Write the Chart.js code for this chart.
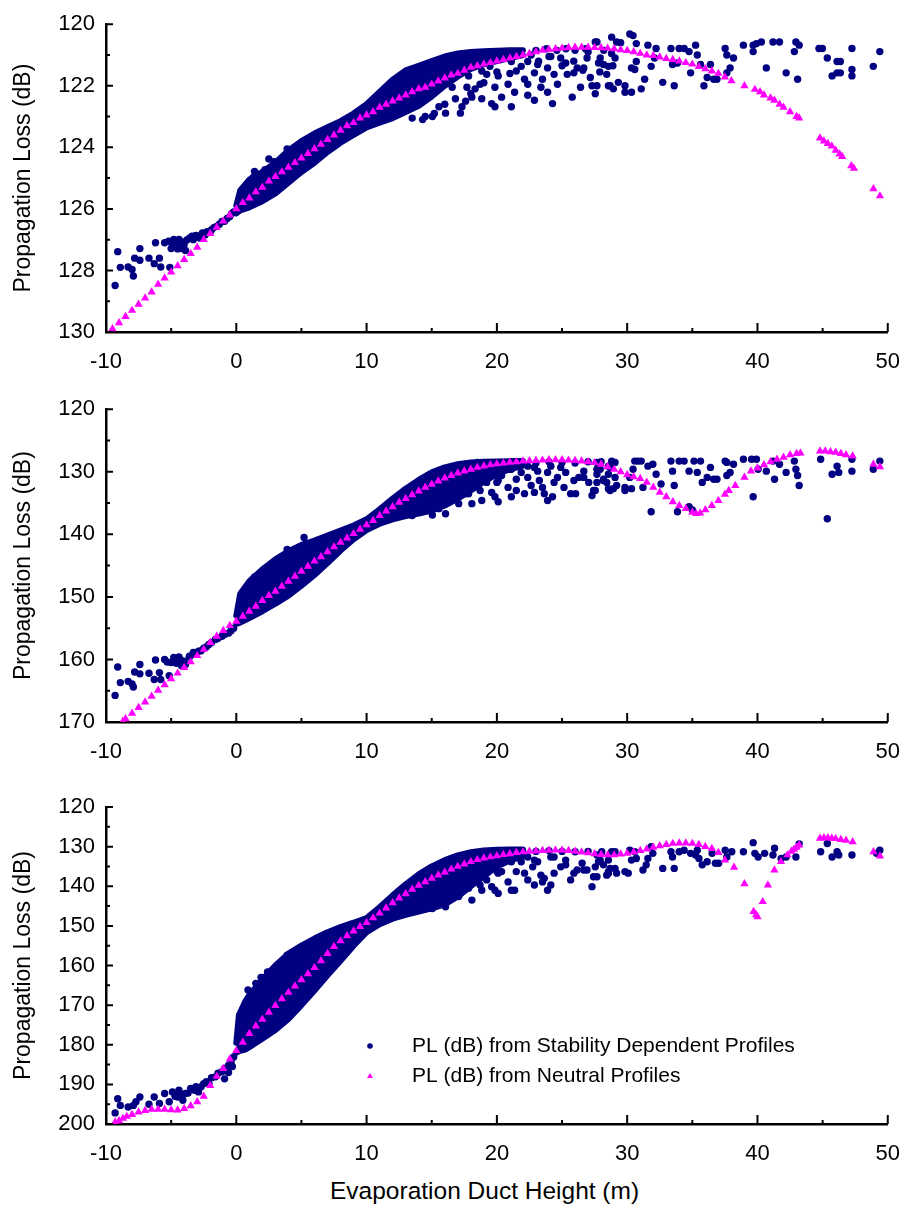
<!DOCTYPE html>
<html>
<head>
<meta charset="utf-8">
<title>Propagation Loss vs Evaporation Duct Height</title>
<script src="https://cdn.jsdelivr.net/npm/chart.js@4.4.1/dist/chart.umd.min.js"></script>
<style>
  body { margin: 0; background: #fff; }
  #wrap { position: relative; width: 917px; height: 1214px; }
  canvas { position: absolute; left: 0; }
  #xTitle { position: absolute; left: 330px; top: 1177px; font: 24.5px "Liberation Sans", Arial, sans-serif; color: #000; white-space: nowrap; }
</style>
</head>
<body>
<div id="wrap">
  <canvas id="c1" width="917" height="385" style="top:0px"></canvas>
  <canvas id="c2" width="917" height="385" style="top:385px"></canvas>
  <canvas id="c3" width="917" height="400" style="top:770px"></canvas>
  <div id="xTitle">Evaporation Duct Height (m)</div>
</div>
<script>
const NAVY = '#000080';
const MAGENTA = '#ff00ff';
const FONT = '"Liberation Sans", Arial, sans-serif';

const labelStability = 'PL (dB) from Stability Dependent Profiles';
const labelNeutral = 'PL (dB) from Neutral Profiles';

// shared x axis
const xTicks = [-10, 0, 10, 20, 30, 40, 50];

// ---------- panel 1 ----------
const yTicks1 = [120, 122, 124, 126, 128, 130];

const neutral1 = [
  [-9.5,129.9],[-9,129.7],[-8.5,129.5],[-8,129.3],[-7.5,129.1],[-7,128.9],[-6.5,128.7],[-6,128.45],
  [-5.5,128.25],[-5,128.05],[-4.5,127.85],[-4,127.65],[-3.5,127.45],[-3,127.25],[-2.5,127.0],[-2,126.8],
  [-1.5,126.6],[-1,126.4],[-0.5,126.2],[0,126.0],[0.5,125.8],[1,125.65],[1.5,125.45],[2,125.3],
  [2.5,125.1],[3,124.95],[3.5,124.8],[4,124.65],[4.5,124.5],[5,124.35],[5.5,124.2],[6,124.05],
  [6.5,123.9],[7,123.75],[7.5,123.6],[8,123.45],[8.5,123.3],[9,123.2],[9.5,123.05],[10,122.95],
  [10.5,122.85],[11,122.7],[11.5,122.6],[12,122.5],[12.5,122.4],[13,122.3],[13.5,122.2],[14,122.1],
  [14.5,122.05],[15,121.95],[15.5,121.85],[16,121.75],[16.5,121.65],[17,121.6],[17.5,121.5],[18,121.4],
  [18.5,121.35],[19,121.3],[19.5,121.25],[20,121.2],[20.5,121.15],[21,121.1],[21.5,121.05],[22,121.0],
  [22.5,120.95],[23,120.9],[23.5,120.85],[24,120.82],[24.5,120.8],[25,120.78],[25.5,120.76],[26,120.75],
  [26.5,120.75],[27,120.75],[27.5,120.76],[28,120.77],[28.5,120.78],[29,120.8],[29.5,120.83],[30,120.86],
  [30.5,120.9],[31,120.95],[31.5,121.0],[32,121.02],[32.5,121.07],[33,121.12],[33.5,121.15],[34,121.2],
  [34.5,121.25],[35,121.3],[35.5,121.38],[36,121.45],[36.5,121.52],[37,121.6],[37.5,121.72],[38,121.84],
  [39,122.0],[39.8,122.12],[40.2,122.2],[40.5,122.3],[41,122.4],[41.3,122.47],[41.7,122.6],[42,122.7],
  [42.5,122.85],[43,123.0],[43.2,123.05],[44.8,123.7],[45.1,123.8],[45.4,123.88],[45.7,123.96],[46,124.1],
  [46.3,124.22],[46.5,124.3],[47.2,124.6],[47.4,124.68],[48.9,125.35],[49.4,125.58]
];

const stability1 = [
  [-9.3,128.49],[-9.1,127.39],[-8.9,127.9],[-8.3,127.89],[-8.0,127.97],[-7.9,128.18],[-7.8,127.6],[-7.4,127.67],
  [-7.4,127.29],[-6.7,127.6],[-6.2,127.1],[-6.3,127.78],[-5.8,127.89],[-5.9,127.6],[-5.5,127.1],[-5.1,127.9],
  [-5.0,127.29],[-4.8,126.99],[-4.6,127.18],[-4.4,126.99],[-4.2,127.29],[-4.0,127.15],[-3.8,127.01],[-3.4,126.89],
  [-3.1,126.86],[-2.9,126.89],[-2.6,126.78],[-2.25,126.74],[-1.9,126.68],[-1.5,126.57],[-1.1,126.41],[-0.7,126.31],
  [-0.35,126.15],[-4.7,127.1],[-4.3,127.05],[-3.6,126.95],[-3.3,127.0],[-2.8,126.95],[-2.4,126.85],[-2.0,126.75],
  [-1.7,126.6],[-1.3,126.5],[-0.9,126.4],[-0.5,126.25],[-0.2,126.1],[-3.9,127.35],[-4.9,127.2],[-5.2,127.05],[-4.5,127.3],
  [2.5,124.38],[2.2,124.73],[2.9,124.47],[1.4,124.78],[1.3,124.98],[3.9,124.05],[5.2,123.84],
  [16.57,122.05],[16.82,122.42],[17.2,122.89],[17.83,121.68],[18.33,122.1],[18.84,122.42],[19.22,121.63],[19.6,122.58],
  [19.85,122.05],[20.36,122.37],[20.86,121.95],[21.36,122.21],[21.87,121.37],[22.12,121.79],[22.37,122.31],[22.63,121.0],
  [22.88,121.58],[23.38,122.05],[23.89,121.42],[24.27,122.58],[24.65,121.95],[24.9,121.1],[25.4,121.63],[25.78,122.37],
  [26.16,121.42],[26.42,122.05],[26.92,121.1],[27.17,121.73],[27.55,120.58],[27.55,122.26],[28.18,121.31],[28.56,122.0],
  [28.8,120.95],
  [23,120.85],[23.8,120.8],[24.6,120.85],[25.3,120.8],[26.0,120.85],[26.8,120.8],[27.0,120.9],[28.2,120.85],[29.5,120.6],
  [23.2,121.2],[24.0,121.05],[25.0,121.35],[25.9,121.2],[26.6,121.5],[27.9,121.55],[28.9,121.35],[21.0,121.6],
  [19.0,121.9],[20.0,121.55],[18.0,122.25],[17.6,122.5],[16.0,122.6],[15.2,122.9],[14.5,123.0],[13.5,123.05],
  [18.84,121.52],[19.47,121.37],[20.1,121.68],[21.11,121.21],[21.49,121.52],[22.37,121.21],[23.13,121.31],[23.5,121.79],
  [24.14,121.05],[24.39,121.63],[25.28,121.26],[25.91,121.58],[26.67,121.42],[27.3,122.0],[27.93,121.1],[28.43,121.63],
  [17.7,122.05],[18.08,122.37],[18.71,121.95],[17.32,122.68],[19.85,122.68],[21.11,122.68],[22.37,121.95],[23.89,122.21],
  [22.88,122.47],[16.06,122.89],[15.55,122.68],[15.05,123.0],[14.3,123.1],
  [27.68,120.58],[27.8,121.26],[27.68,122.0],[28.56,121.37],[28.81,120.42],[29.07,121.1],[29.19,120.58],[28.69,122.0],
  [28.94,122.1],[29.32,121.89],[29.83,122.0],[29.83,122.21],[30.33,122.21],[30.2,120.32],[30.45,120.37],[30.7,120.63],
  [30.7,121.21],[30.33,121.42],[30.58,121.47],[31.08,122.1],[31.34,121.79],[31.59,120.68],[31.84,121.37],[32.1,121.1],
  [32.22,120.79],[32.73,121.89],[33.36,120.79],[33.61,122.0],[33.48,121.31],[33.86,121.26],[33.99,120.79],[34.37,120.79],
  [34.75,120.89],[34.87,121.58],[35.25,120.68],[35.38,121.0],[35.63,121.31],[35.89,122.0],[36.14,121.73],[36.39,121.31],
  [36.64,121.79],[36.89,121.79],[37.52,120.79],[37.65,121.0],[37.9,121.42],[37.65,121.58],[38.16,121.1],[38.92,120.68],
  [39.67,120.68],[39.67,120.89],[39.92,120.63],[40.3,120.58],[40.68,121.42],[41.19,120.58],[41.69,120.58],[42.2,121.58],
  [42.83,120.89],[42.95,120.58],[43.2,120.68],[43.08,121.79],[44.72,120.79],[44.98,120.79],[45.36,121.1],[46.11,121.21],
  [46.36,121.21],[45.73,121.68],[46.11,121.58],[46.36,121.58],[47.25,120.79],[47.25,121.47],[47.25,121.68],[48.89,121.37],
  [49.39,120.89]
];

// dense part of the stability scatter: upper and lower edges of the cloud
const bandX1 = [0, 0.3, 1, 2, 3, 4, 5, 6, 7, 8, 9, 10, 11, 12, 13, 14, 15, 16, 17, 18, 19, 20, 21, 22];
const bandTop1 = [125.9, 125.4, 125.05, 124.8, 124.5, 124.1, 123.8, 123.55, 123.35, 123.15, 122.9, 122.6,
  122.2, 121.8, 121.5, 121.35, 121.2, 121.05, 120.95, 120.9, 120.88, 120.86, 120.85, 120.85];
const bandBottom1 = [126.15, 126.05, 125.95, 125.75, 125.5, 125.15, 124.8, 124.5, 124.15, 123.85, 123.6, 123.35,
  123.2, 123.05, 122.85, 122.65, 122.35, 122.0, 121.7, 121.45, 121.3, 121.2, 121.1, 121.0];

// ---------- panel 2 ----------
const yTicks2 = [120, 130, 140, 150, 160, 170];

const neutral2 = [
  [-8.7,169.9],[-8.5,169.5],[-8,168.6],[-7.5,167.7],[-7,166.8],[-6.5,165.9],[-6,164.95],[-5.5,164.05],
  [-5,163.1],[-4.5,162.2],[-4,161.3],[-3.5,160.4],[-3,159.4],[-2.5,158.4],[-2,157.3],[-1.5,156.3],
  [-1,155.4],[-0.5,154.6],[0,153.9],[0.5,153.1],[1,152.3],[1.5,151.5],[2,150.6],[2.5,149.8],
  [3,149.1],[3.5,148.3],[4,147.5],[4.5,146.7],[5,145.9],[5.5,145.1],[6,144.3],[6.5,143.6],
  [7,142.8],[7.5,142.0],[8,141.3],[8.5,140.6],[9,139.9],[9.5,139.2],[10,138.5],[10.5,137.8],
  [11,137.0],[11.5,136.3],[12,135.6],[12.5,134.9],[13,134.3],[13.5,133.7],[14,133.1],[14.5,132.5],
  [15,132.0],[15.5,131.5],[16,131.0],[16.5,130.6],[17,130.2],[17.5,129.9],[18,129.6],[18.5,129.3],
  [19,129.1],[19.5,128.9],[20,128.75],[20.5,128.6],[21,128.5],[21.5,128.4],[22,128.3],[22.5,128.25],
  [23,128.2],[23.5,128.15],[24,128.1],[24.5,128.1],[25,128.1],[25.5,128.15],[26,128.2],[26.5,128.3],
  [27,128.4],[27.5,128.55],[28,128.8],[28.5,129.2],[29,129.6],[29.5,130.0],[30,130.5],[30.5,130.8],
  [31,131.1],[31.5,131.7],[32,132.5],[32.5,133.3],[33,134.0],[33.5,134.8],[34,135.4],[34.5,135.9],
  [35,136.5],[35.3,136.7],[35.6,136.6],[36,136.1],[36.5,135.4],[37,134.6],[37.5,133.6],[37.8,133.0],
  [38.3,132.2],[39.0,130.9],[39.5,129.9],[40,129.4],[40.5,128.9],[41,128.4],[41.5,128.0],[42,127.7],
  [42.5,127.3],[43,127.1],[43.3,127.0],[44.8,126.7],[45.2,126.7],[45.6,126.8],[46,126.9],[46.4,127.1],
  [46.8,127.3],[47.3,127.5],[48.9,128.8],[49.4,129.2]
];

const stability2 = [
  [-9.3,165.75],[-9.1,161.2],[-8.9,163.7],[-8.3,163.5],[-8.0,163.9],[-7.9,164.4],[-7.8,162.0],[-7.4,162.3],
  [-7.4,160.8],[-6.7,162.2],[-6.2,160.1],[-6.3,163.2],[-5.8,163.2],[-5.9,162.1],[-5.5,160.0],[-5.15,162.6],
  [-5.0,160.5],[-4.8,159.7],[-4.6,160.6],[-4.4,159.6],[-4.2,161.0],[-4.0,160.3],[-3.6,159.5],[-3.3,158.9],
  [-2.9,158.7],[-2.5,158.2],[-2.1,157.6],[-1.6,156.8],[-1.1,156.3],[-0.6,155.8],[-0.2,155.0],
  [-4.7,160.2],[-4.3,160.0],[-3.6,159.6],[-3.3,159.2],[-2.7,158.6],[-2.3,158.0],[-1.9,157.3],[-1.4,156.6],
  [-0.9,156.0],[-0.4,155.4],[-3.9,160.8],[-5.3,160.4],
  [2.5,145.2],[1.4,146.8],[1.2,147.5],[2.0,146.0],[3.9,142.4],[5.2,140.5],
  [16.57,133.0],[17.07,135.1],[17.32,131.95],[17.83,133.5],[18.46,130.9],[18.84,134.6],[19.22,131.7],[19.6,133.3],
  [20.1,134.8],[20.36,130.6],[20.86,132.5],[21.49,133.0],[21.87,130.1],[22.12,133.5],[22.37,130.9],[22.63,132.2],
  [22.88,129.3],[23.26,131.4],[23.64,133.5],[23.89,130.1],[24.27,134.0],[24.65,130.9],[24.9,129.3],[25.15,132.5],
  [25.66,133.5],[26.04,133.5],[26.29,130.9],[26.67,129.9],[27.05,131.7],[27.42,133.0],[27.68,130.4],[28.18,131.4],
  [28.56,132.7],[28.69,129.3],
  [16.0,134.5],[15.2,135.5],[14.5,136.2],[13.5,137.0],[17.6,131.0],[18.0,132.2],[19.0,130.6],[20.0,131.7],
  [21.0,129.6],[22.0,128.8],[23.0,128.6],[24.0,128.4],[25.0,128.5],[26.0,128.6],[27.0,128.4],[28.0,128.4],
  [19.5,129.4],[18.5,128.5],
  [18.84,129.9],[19.47,129.1],[20.1,131.4],[21.11,129.6],[21.49,131.2],[22.37,129.1],[23.13,129.9],[23.5,132.5],
  [24.14,129.1],[24.39,131.7],[25.28,130.1],[25.91,131.4],[26.67,130.9],[27.3,133.8],[27.93,129.6],[28.43,131.7],
  [17.7,133.5],[18.08,135.1],[18.71,133.0],[19.85,134.0],[21.11,134.0],[22.88,133.3],[23.89,134.6],[16.06,136.7],
  [15.55,135.9],[15.05,136.9],
  [27.68,128.5],[27.68,129.6],[27.68,131.7],[27.55,133.0],[28.18,131.2],[28.56,129.1],[28.56,130.4],[28.69,133.0],
  [28.81,128.3],[29.07,128.5],[29.07,130.9],[29.19,132.2],[28.94,132.7],[29.83,132.5],[29.83,133.0],[30.2,130.9],
  [30.33,132.7],[30.45,129.6],[30.58,128.3],[30.83,128.3],[31.08,128.3],[31.21,132.5],[31.59,129.1],[31.84,136.4],
  [31.97,128.8],[32.22,130.4],[32.6,131.95],[33.36,128.3],[33.48,129.9],[33.61,132.2],[33.86,136.4],[33.99,128.3],
  [34.37,128.3],[34.75,129.9],[34.75,135.6],[35.0,136.1],[35.13,128.3],[35.38,130.1],[35.63,128.3],[35.76,131.7],
  [36.14,130.9],[36.39,129.3],[36.64,131.2],[36.89,131.2],[37.52,128.3],[37.65,128.5],[37.65,130.6],[37.9,130.1],
  [38.16,128.8],[38.92,128.0],[39.55,128.0],[39.67,134.0],[39.92,128.0],[40.05,129.6],[40.68,129.9],[41.19,128.3],
  [41.31,131.2],[41.69,128.8],[42.2,130.1],[42.83,128.3],[42.95,129.6],[43.08,130.6],[43.2,132.2],[44.85,128.0],
  [45.36,137.5],[45.73,130.4],[46.11,129.1],[46.24,130.1],[47.25,128.0],[47.25,129.9],[48.89,129.6],[49.39,128.3]
];

const bandX2 = [0, 0.3, 1, 2, 3, 4, 5, 6, 7, 8, 9, 10, 11, 12, 13, 14, 15, 16, 17, 18, 19, 20, 21, 22];
const bandTop2 = [153.0, 149.5, 147.5, 145.6, 144.0, 142.7, 141.7, 141.0, 140.2, 139.4, 138.6, 137.6,
  136.0, 134.3, 132.7, 131.3, 130.1, 129.3, 128.8, 128.5, 128.4, 128.35, 128.3, 128.3];
const bandBottom2 = [154.3, 154.1, 153.4, 152.3, 151.1, 149.8, 148.2, 146.5, 144.6, 142.6, 140.8, 139.3,
  138.3, 137.6, 137.1, 136.7, 136.2, 135.4, 134.3, 133.0, 131.6, 130.4, 129.6, 129.0];

// ---------- panel 3 ----------
const yTicks3 = [120, 130, 140, 150, 160, 170, 180, 190, 200];

const neutral3 = [
  [-9.3,199.5],[-9,199.2],[-8.7,198.6],[-8.4,198.1],[-8,197.6],[-7.5,197.0],[-7,196.6],[-6.5,196.3],
  [-6,196.3],[-5.5,196.3],[-5,196.4],[-4.5,196.5],[-4,196.1],[-3.5,195.4],[-3,194.4],[-2.5,193.0],
  [-2,190.3],[-1.5,188.0],[-1,186.0],[-0.5,183.6],[0,181.5],[0.5,179.4],[1,177.2],[1.5,175.3],
  [2,173.6],[2.5,171.8],[3,170.1],[3.5,168.4],[4,166.8],[4.5,165.2],[5,163.6],[5.5,162.1],
  [6,160.5],[6.5,158.8],[7,157.0],[7.5,155.2],[8,153.8],[8.5,152.5],[9,151.3],[9.5,150.2],
  [10,149.2],[10.5,148.0],[11,146.8],[11.5,145.5],[12,144.2],[12.5,143.0],[13,141.9],[13.5,140.8],
  [14,139.8],[14.5,138.9],[15,138.0],[15.5,137.2],[16,136.5],[16.5,135.7],[17,135.0],[17.5,134.4],
  [18,133.8],[18.5,133.3],[19,132.9],[19.5,132.6],[20,132.3],[20.5,132.0],[21,131.8],[21.5,131.5],
  [22,131.35],[22.5,131.2],[23,131.1],[23.5,131.0],[24,130.95],[24.5,130.9],[25,130.9],[25.5,131.0],
  [26,131.2],[26.5,131.4],[27,131.6],[27.5,131.8],[28,132.0],[28.5,132.1],[29,132.1],[29.5,131.9],
  [30,131.7],[30.5,131.4],[31,131.0],[31.5,130.6],[32,130.2],[32.5,129.8],[33,129.5],[33.5,129.2],
  [34,129.1],[34.5,129.1],[35,129.2],[35.5,129.5],[36,130.0],[36.5,130.5],[37,131.5],[37.5,133.4],
  [38.2,135.2],[39.0,139.4],[39.7,146.4],[39.9,147.2],[40.0,147.7],[40.4,143.9],[40.8,139.7],[41.3,135.9],
  [41.8,133.8],[42.3,132.1],[42.6,131.2],[42.8,130.7],[43.0,130.2],[43.2,129.6],[44.8,127.9],[45.1,127.8],
  [45.4,127.8],[45.7,127.9],[46.0,128.0],[46.4,128.2],[46.8,128.4],[47.3,128.8],[48.9,131.3],[49.4,132.4]
];

const stability3 = [
  [-9.3,197.2],[-9.1,193.6],[-8.9,195.3],[-8.3,195.7],[-7.9,195.3],[-7.7,194.4],[-7.4,193.2],[-6.7,195.0],
  [-6.3,193.2],[-5.9,194.8],[-5.5,192.3],[-5.15,194.4],[-4.9,191.9],[-4.5,193.2],[-4.4,191.5],[-4.1,194.0],
  [-3.9,192.3],[-3.5,191.0],[-3.1,190.6],[-2.9,191.9],[-2.5,189.8],[-2.1,189.8],[-1.6,188.1],[-1.1,186.8],
  [-0.6,185.2],[-0.2,183.1],
  [-4.7,193.0],[-4.2,192.6],[-3.7,192.2],[-3.2,191.5],[-2.7,190.6],[-2.3,189.3],[-1.9,188.3],[-1.4,187.2],
  [-0.9,186.0],[-0.4,184.3],[-0.6,187.0],[-0.3,185.5],[-0.9,188.6],
  [2.4,161.6],[1.5,164.5],[1.2,167.0],[0.7,169.6],[0.5,171.3],[3.9,157.4],[1.9,163.0],[0.9,166.2],
  [16.57,138.9],[17.07,142.6],[17.45,137.6],[17.83,140.5],[18.46,136.7],[18.84,141.0],[19.22,138.4],[19.6,140.1],
  [20.1,141.8],[20.36,136.3],[20.86,138.9],[21.36,141.0],[21.87,133.8],[22.12,136.7],[22.37,138.4],[22.75,135.1],
  [22.88,133.4],[23.38,137.2],[23.64,138.0],[24.14,139.7],[24.39,132.6],[24.9,135.1],[25.28,133.4],[25.66,138.4],
  [26.16,135.9],[26.54,134.2],[26.92,135.9],[27.42,137.6],[27.8,133.8],[28.56,136.7],[28.69,135.5],
  [16.0,143.5],[15.2,144.8],[14.5,145.6],[13.5,146.4],[17.6,139.5],[18.0,137.0],[19.0,135.5],[20.0,136.2],
  [21.0,133.0],[22.0,131.5],[23.0,131.2],[24.0,131.0],[25.0,131.2],[26.0,131.3],[27.0,131.2],[28.0,131.8],
  [18.5,133.0],[19.5,132.2],[17.0,136.5],[16.5,141.0],
  [18.84,133.8],[19.47,132.6],[20.1,136.7],[21.11,133.8],[21.49,136.3],[22.37,132.6],[23.13,133.8],[23.5,138.9],
  [24.14,132.6],[24.39,136.7],[25.28,134.6],[25.91,136.7],[26.67,135.9],[27.3,140.1],[27.93,133.4],[28.43,137.2],
  [17.7,140.5],[18.08,143.5],[18.71,139.7],[19.85,141.0],[21.11,141.0],[22.88,139.7],[23.89,141.0],[16.06,145.2],
  [15.55,144.3],[15.05,145.6],
  [27.68,132.1],[27.55,135.1],[27.68,137.6],[28.05,131.3],[28.18,134.6],[28.56,133.4],[28.56,136.3],[28.81,131.3],
  [29.07,131.3],[29.07,135.5],[29.19,136.7],[29.83,136.3],[30.08,136.7],[30.2,130.9],[30.58,131.3],[30.33,133.4],
  [30.7,133.0],[31.21,135.9],[31.46,134.6],[31.59,133.0],[31.84,130.0],[31.97,131.7],[32.73,135.5],[33.36,131.3],
  [33.61,135.5],[33.48,132.6],[33.99,131.3],[34.37,130.9],[34.87,131.7],[35.25,132.1],[35.38,130.9],[35.51,133.0],
  [35.76,134.6],[36.14,133.8],[36.52,131.7],[36.77,134.2],[37.02,134.2],[37.52,130.9],[37.65,132.6],[38.03,131.3],
  [38.92,131.3],[39.67,129.0],[39.8,131.7],[40.05,132.6],[40.55,131.7],[41.31,130.4],[41.19,132.1],[41.82,133.0],
  [42.2,132.6],[42.95,132.6],[43.2,129.3],[44.85,131.3],[45.36,129.2],[45.73,132.6],[46.11,131.3],[46.24,132.1],
  [47.25,132.1],[49.39,130.9],[49.14,131.7]
];

const bandX3 = [0, 0.2, 0.7, 1, 2, 3, 4, 5, 6, 7, 8, 9, 10, 11, 12, 13, 14, 15, 16, 17, 18, 19, 20, 21, 22];
const bandTop3 = [179.5, 172.5, 169.0, 167.5, 163.5, 160.0, 157.0, 155.0, 153.2, 151.6, 150.3, 149.2, 148.0,
  145.3, 142.3, 139.5, 137.0, 135.0, 133.4, 132.2, 131.4, 131.0, 130.8, 130.7, 130.7];
const bandBottom3 = [182.0, 181.6, 181.2, 180.6, 178.5, 176.3, 173.5, 170.0, 166.3, 162.5, 158.8, 155.0, 151.6,
  149.6, 148.2, 147.2, 146.4, 145.6, 144.6, 142.6, 140.0, 137.5, 135.0, 133.5, 132.5];

// ---------- drawing ----------
function toPoints(xs, ys) {
  return xs.map((x, i) => ({ x: x, y: ys[i] }));
}
function pairs(list) {
  return list.map(p => ({ x: p[0], y: p[1] }));
}

// short tick marks pointing into the plot, with unlabelled minor ticks halfway
const inwardTicks = {
  id: 'inwardTicks',
  afterDraw(chart) {
    const ctx = chart.ctx;
    const a = chart.chartArea;
    const xs = chart.scales.x, ys = chart.scales.y;
    ctx.save();
    ctx.strokeStyle = '#000';
    ctx.lineWidth = 2;
    ctx.beginPath();
    const xv = xs.ticks.map(t => t.value);
    xv.forEach((v, i) => {
      const p = xs.getPixelForValue(v);
      ctx.moveTo(p, a.bottom); ctx.lineTo(p, a.bottom - 9);
      if (i < xv.length - 1) {
        const m = xs.getPixelForValue((v + xv[i + 1]) / 2);
        ctx.moveTo(m, a.bottom); ctx.lineTo(m, a.bottom - 4);
      }
    });
    const yv = ys.ticks.map(t => t.value);
    yv.forEach((v, i) => {
      const p = ys.getPixelForValue(v);
      ctx.moveTo(a.left, p); ctx.lineTo(a.left + 7, p);
      if (i < yv.length - 1) {
        const m = ys.getPixelForValue((v + yv[i + 1]) / 2);
        ctx.moveTo(a.left, m); ctx.lineTo(a.left + 4, m);
      }
    });
    ctx.stroke();
    ctx.restore();
  }
};

// legend drawn inside the bottom panel
const innerLegend = {
  id: 'innerLegend',
  afterDraw(chart, args, opts) {
    if (!opts.show) return;
    const ctx = chart.ctx;
    const items = chart.data.datasets.filter(d => d.label);
    ctx.save();
    ctx.font = '21px ' + FONT;
    ctx.textBaseline = 'middle';
    items.forEach((d, i) => {
      const y = opts.y + i * opts.gap;
      ctx.fillStyle = d.backgroundColor;
      ctx.beginPath();
      if (d.pointStyle === 'triangle') {
        ctx.moveTo(opts.x, y - 3); ctx.lineTo(opts.x + 3, y + 2); ctx.lineTo(opts.x - 3, y + 2);
      } else {
        ctx.arc(opts.x, y, 2.8, 0, Math.PI * 2);
      }
      ctx.fill();
      ctx.fillStyle = '#000';
      ctx.fillText(d.label, opts.textX, y);
    });
    ctx.restore();
  }
};

function makePanel(id, yTicks, neutral, stability, bandX, bandTop, bandBottom, box, legend) {
  new Chart(document.getElementById(id), {
    type: 'scatter',
    data: {
      datasets: [
        {
          label: labelStability, data: pairs(stability), pointStyle: 'circle',
          pointRadius: 3.7, borderWidth: 0, backgroundColor: NAVY, order: 1
        },
        {
          label: labelNeutral, data: pairs(neutral), pointStyle: 'triangle',
          pointRadius: 4.8, borderWidth: 0, backgroundColor: MAGENTA, order: 0
        },
        {
          label: '', data: toPoints(bandX, bandTop), showLine: true, pointRadius: 0,
          borderColor: NAVY, borderWidth: 6, borderJoinStyle: 'round', borderCapStyle: 'round',
          backgroundColor: NAVY, fill: '+1', tension: 0, order: 2
        },
        {
          label: '', data: toPoints(bandX, bandBottom), showLine: true, pointRadius: 0,
          borderColor: NAVY, borderWidth: 6, borderJoinStyle: 'round', borderCapStyle: 'round',
          backgroundColor: NAVY, fill: false, tension: 0, order: 2
        }
      ]
    },
    options: {
      responsive: false,
      animation: false,
      devicePixelRatio: 1,
      layout: { padding: { top: box.top, right: 19, left: 0, bottom: 0 } },
      plugins: {
        legend: { display: false },
        tooltip: { enabled: false },
        innerLegend: legend || { show: false }
      },
      scales: {
        x: {
          type: 'linear',
          min: xTicks[0], max: xTicks[xTicks.length - 1],
          ticks: { stepSize: xTicks[1] - xTicks[0], color: '#000', padding: 17, font: { family: FONT, size: 22 } },
          grid: { display: false, drawTicks: false },
          border: { display: true, color: '#000', width: 2.5 },
          afterFit: s => { s.height = box.xh; }
        },
        y: {
          type: 'linear',
          reverse: true,
          min: yTicks[0], max: yTicks[yTicks.length - 1],
          ticks: { stepSize: yTicks[1] - yTicks[0], color: '#000', padding: 11, font: { family: FONT, size: 22 } },
          grid: { display: false, drawTicks: false },
          border: { display: true, color: '#000', width: 2.5 },
          title: {
            display: true, text: 'Propagation Loss (dB)', color: '#000',
            font: { family: FONT, size: 23 }, padding: { top: 10, bottom: 0 }
          },
          afterFit: s => { s.width = 106; }
        }
      }
    },
    plugins: [inwardTicks, innerLegend]
  });
}

makePanel('c1', yTicks1, neutral1, stability1, bandX1, bandTop1, bandBottom1, { top: 15, xh: 53 });
makePanel('c2', yTicks2, neutral2, stability2, bandX2, bandTop2, bandBottom2, { top: 19, xh: 48 });
makePanel('c3', yTicks3, neutral3, stability3, bandX3, bandTop3, bandBottom3, { top: 37, xh: 46 },
  { show: true, x: 370, textX: 412, y: 276, gap: 30 });
</script>
</body>
</html>
